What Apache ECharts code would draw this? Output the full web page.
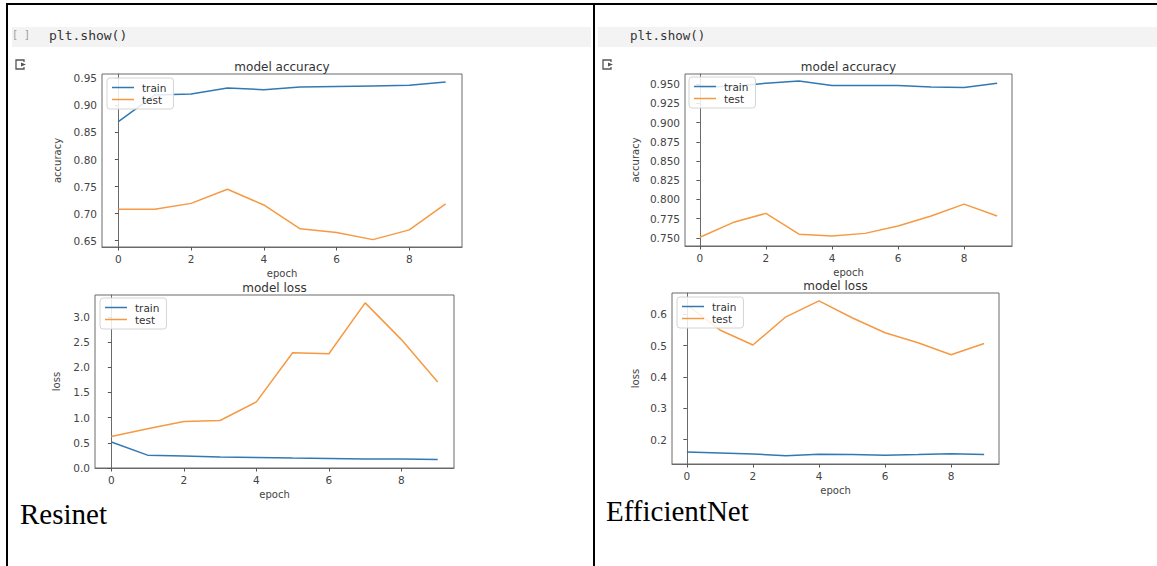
<!DOCTYPE html>
<html><head><meta charset="utf-8">
<script src="https://cdn.jsdelivr.net/npm/echarts@6/dist/echarts.min.js"></script>
<style>html,body{margin:0;padding:0;background:#fff}#c{width:1157px;height:566px}</style>
</head><body><div id="c"></div><script>
// ---------- data ----------
const epochs = [0, 1, 2, 3, 4, 5, 6, 7, 8, 9];
const seriesNames = ['train', 'test'];
const resnetAccTrain = [0.870, 0.919, 0.921, 0.932, 0.929, 0.934, 0.935, 0.936, 0.937, 0.943];
const resnetAccTest  = [0.708, 0.708, 0.719, 0.745, 0.716, 0.672, 0.665, 0.652, 0.670, 0.718];
const resnetLossTrain = [0.515, 0.255, 0.238, 0.218, 0.210, 0.198, 0.190, 0.178, 0.178, 0.170];
const resnetLossTest  = [0.626, 0.778, 0.923, 0.943, 1.313, 2.290, 2.270, 3.280, 2.550, 1.710];
const effAccTrain = [0.946, 0.947, 0.951, 0.954, 0.948, 0.948, 0.948, 0.946, 0.9455, 0.951];
const effAccTest  = [0.751, 0.770, 0.782, 0.755, 0.7526, 0.756, 0.7656, 0.7786, 0.794, 0.7786];
const effLossTrain = [0.160, 0.157, 0.154, 0.148, 0.153, 0.152, 0.150, 0.152, 0.155, 0.152];
const effLossTest  = [0.630, 0.550, 0.502, 0.592, 0.643, 0.589, 0.541, 0.509, 0.471, 0.507];
const xTicks = [0, 2, 4, 6, 8];
const resnetAccTicks = [0.65, 0.70, 0.75, 0.80, 0.85, 0.90, 0.95];
const resnetLossTicks = [0.0, 0.5, 1.0, 1.5, 2.0, 2.5, 3.0];
const effAccTicks = [0.750, 0.775, 0.800, 0.825, 0.850, 0.875, 0.900, 0.925, 0.950];
const effLossTicks = [0.2, 0.3, 0.4, 0.5, 0.6];
const titles = ['model accuracy', 'model loss', 'model accuracy', 'model loss'];
const yNames = ['accuracy', 'loss', 'accuracy', 'loss'];
const xName = 'epoch';
const captions = ['Resinet', 'EfficientNet'];
const codeText = 'plt.show()';

// ---------- layout / style ----------
const TRAIN_C = '#3279b3', TEST_C = '#f59a42';
const FONT = 'DejaVu Sans';
const panels = [
  {train: resnetAccTrain, test: resnetAccTest, ticks: resnetAccTicks, dec: 2, ymin: 0.6384, ymax: 0.958,
   grid: {left: 102, top: 74, width: 360, height: 173}, nameGap: 40, legend: {left: 107, top: 78}},
  {train: resnetLossTrain, test: resnetLossTest, ticks: resnetLossTicks, dec: 1, ymin: 0, ymax: 3.436,
   grid: {left: 95, top: 295, width: 359, height: 173}, nameGap: 34, legend: {left: 100, top: 298}},
  {train: effAccTrain, test: effAccTest, ticks: effAccTicks, dec: 3, ymin: 0.7396, ymax: 0.963,
   grid: {left: 685, top: 74, width: 327, height: 172}, nameGap: 45, legend: {left: 689, top: 77}},
  {train: effLossTrain, test: effLossTest, ticks: effLossTicks, dec: 1, ymin: 0.122, ymax: 0.668,
   grid: {left: 672, top: 293, width: 327, height: 171}, nameGap: 32, legend: {left: 677, top: 297}}
];

const grids = [], xAxes = [], yAxes = [], series = [], legends = [], graphics = [];
panels.forEach((p, i) => {
  grids.push(Object.assign({show: true, borderColor: '#6a6a6a', borderWidth: 1, backgroundColor: 'transparent'}, p.grid));
  xAxes.push({
    type: 'value', gridIndex: i, min: -0.45, max: 9.45,
    name: xName, nameLocation: 'middle', nameGap: 21,
    nameTextStyle: {fontSize: 10, color: '#444', fontFamily: FONT},
    axisLine: {show: true, lineStyle: {color: '#6a6a6a'}},
    splitLine: {show: false},
    axisTick: {show: true, customValues: xTicks, length: 3.5, lineStyle: {color: '#555'}},
    axisLabel: {customValues: xTicks, fontSize: 10.5, color: '#444', fontFamily: FONT, margin: 6,
      formatter: v => String(v)}
  });
  yAxes.push({
    type: 'value', gridIndex: i, min: p.ymin, max: p.ymax,
    name: yNames[i], nameLocation: 'middle', nameGap: p.nameGap,
    nameTextStyle: {fontSize: 10, color: '#444', fontFamily: FONT},
    axisLine: {show: true, lineStyle: {color: '#6a6a6a'}},
    splitLine: {show: false},
    axisTick: {show: true, customValues: p.ticks, length: 3.5, lineStyle: {color: '#555'}},
    axisLabel: {customValues: p.ticks, fontSize: 10.5, color: '#444', fontFamily: FONT, margin: 5,
      formatter: v => Number(v).toFixed(p.dec)}
  });
  [[p.train, TRAIN_C], [p.test, TEST_C]].forEach(([arr, c], k) => {
    series.push({
      type: 'line', name: seriesNames[k], xAxisIndex: i, yAxisIndex: i,
      data: epochs.map((e, j) => [e, arr[j]]),
      symbol: 'none', lineStyle: {width: 1.5, color: c}, itemStyle: {color: c},
      animation: false, z: 2
    });
  });
  legends.push({
    data: seriesNames, orient: 'vertical', left: p.legend.left, top: p.legend.top,
    icon: 'rect', itemWidth: 22, itemHeight: 1.5, itemGap: 1,
    padding: [4, 7, 4, 5], backgroundColor: 'rgba(255,255,255,0.85)',
    borderColor: '#d4d4d4', borderWidth: 1, borderRadius: 3,
    textStyle: {fontSize: 10.5, color: '#333', fontFamily: FONT, padding: [0, 0, 0, 3]},
    selectedMode: false, z: 10
  });
  const g = p.grid;
  graphics.push({type: 'text', x: g.left + g.width / 2, y: g.top - 7, z: 10,
    style: {text: titles[i], fill: '#333', fontSize: 12, fontFamily: FONT,
      align: 'center', verticalAlign: 'middle', textAlign: 'center', textVerticalAlign: 'middle'}});
});

// page furniture: table borders, code cells, icons, captions
const furniture = [
  {type: 'rect', shape: {x: 12, y: 27, width: 579, height: 20}, style: {fill: '#f3f3f3'}, z: 0},
  {type: 'rect', shape: {x: 598, y: 27, width: 559, height: 20}, style: {fill: '#f3f3f3'}, z: 0},
  {type: 'rect', shape: {x: 6, y: 3, width: 1151, height: 2}, style: {fill: '#000'}, z: 1},
  {type: 'rect', shape: {x: 6, y: 3, width: 2, height: 563}, style: {fill: '#000'}, z: 1},
  {type: 'rect', shape: {x: 593, y: 3, width: 2, height: 563}, style: {fill: '#000'}, z: 1},
  {type: 'text', x: 12, y: 34, style: {text: '[ ]', fill: '#9a9a9a', fontSize: 10, fontFamily: 'DejaVu Sans Mono',
    align: 'left', verticalAlign: 'middle', textAlign: 'left', textVerticalAlign: 'middle'}, z: 2},
  {type: 'text', x: 49, y: 35, style: {text: codeText, fill: '#333', fontSize: 13, fontFamily: 'DejaVu Sans Mono',
    align: 'left', verticalAlign: 'middle', textAlign: 'left', textVerticalAlign: 'middle'}, z: 2},
  {type: 'text', x: 630, y: 35, style: {text: codeText, fill: '#333', fontSize: 12.5, fontFamily: 'DejaVu Sans Mono',
    align: 'left', verticalAlign: 'middle', textAlign: 'left', textVerticalAlign: 'middle'}, z: 2},
  {type: 'text', x: 20, y: 514, style: {text: captions[0], fill: '#000', fontSize: 29, fontFamily: 'Liberation Serif',
    align: 'left', verticalAlign: 'middle', textAlign: 'left', textVerticalAlign: 'middle'}, z: 2},
  {type: 'text', x: 606, y: 511, style: {text: captions[1], fill: '#000', fontSize: 29, fontFamily: 'Liberation Serif',
    align: 'left', verticalAlign: 'middle', textAlign: 'left', textVerticalAlign: 'middle'}, z: 2}
];
[[16, 60], [603, 60]].forEach(([x, y]) => {
  furniture.push({type: 'polyline', shape: {points: [[x + 8, y + 2], [x + 8, y], [x, y], [x, y + 9], [x + 8, y + 9], [x + 8, y + 7]]},
    style: {stroke: '#555', lineWidth: 1.3, fill: null}, z: 2});
  furniture.push({type: 'polygon', shape: {points: [[x + 5, y + 2.5], [x + 10, y + 4.5], [x + 5, y + 6.5]]},
    style: {fill: '#555'}, z: 2});
});

const chart = echarts.init(document.getElementById('c'), null, {renderer: 'svg', width: 1157, height: 566});
chart.setOption({
  animation: false,
  backgroundColor: '#fff',
  grid: grids, xAxis: xAxes, yAxis: yAxes, series: series, legend: legends,
  graphic: furniture.concat(graphics)
});
</script></body></html>
